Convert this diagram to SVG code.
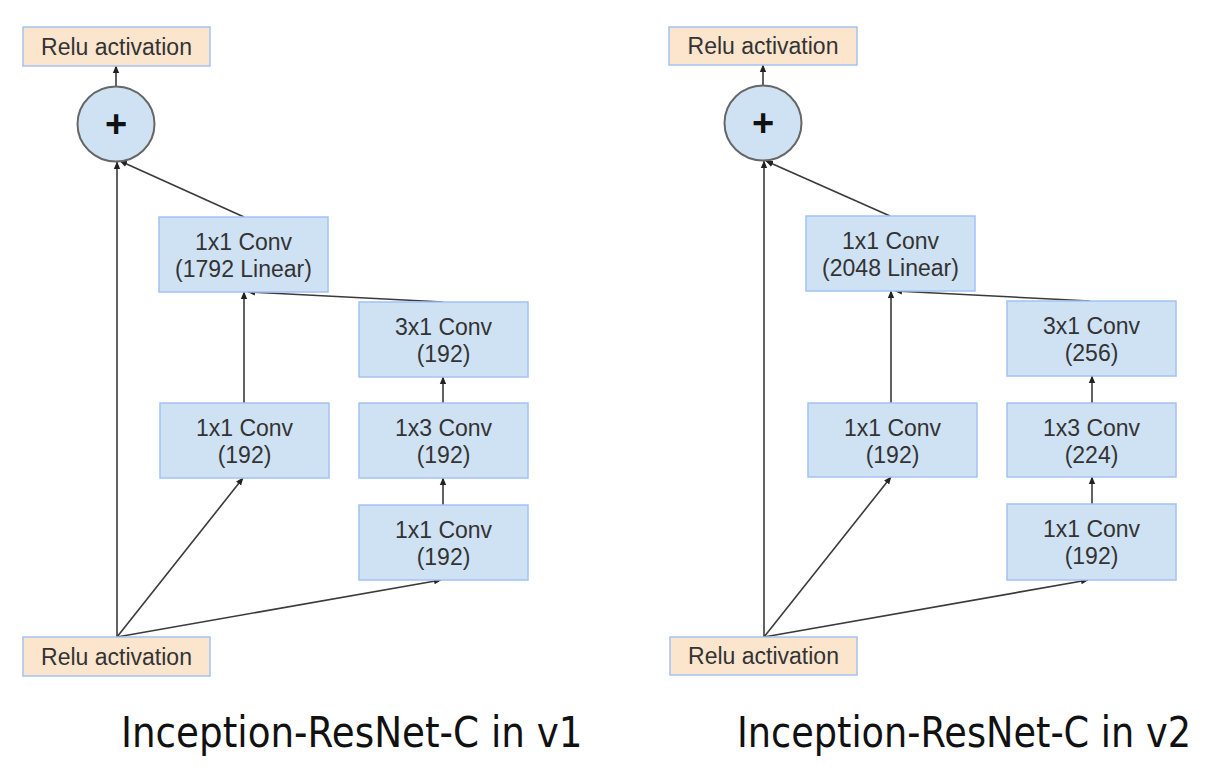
<svg xmlns="http://www.w3.org/2000/svg" width="1218" height="782" viewBox="0 0 1218 782">
<defs>
<style>
.box{fill:#cfe2f3;stroke:#a4c2f4;stroke-width:1.5}
.relu{fill:#fce5cd;stroke:#a4c2f4;stroke-width:1.5}
.sum{fill:#cfe2f3;stroke:#666666;stroke-width:2}
.t{font-family:"Liberation Sans",Arial,sans-serif;font-size:23px;fill:#333333;text-anchor:middle}
.plus{font-family:"Liberation Sans",Arial,sans-serif;font-size:38px;font-weight:bold;fill:#111111;text-anchor:middle}
.cap{font-family:"DejaVu Sans",sans-serif;font-size:43px;fill:#111111}
.c line{stroke:#3a3a3a;stroke-width:1.6;fill:none;marker-end:url(#ah)}
</style>
<marker id="ah" markerUnits="userSpaceOnUse" markerWidth="8" markerHeight="8" viewBox="0 0 8 8" refX="7" refY="4" orient="auto">
<path d="M0,0.8 L7.5,4 L0,7.2 Z" fill="#222222"/>
</marker>
</defs>
<rect width="1218" height="782" fill="#ffffff"/>

<g id="connectors-v1" class="c">
<line x1="117" y1="637" x2="117" y2="162"/>
<line x1="244" y1="217" x2="120" y2="161"/>
<line x1="116" y1="86" x2="116" y2="66"/>
<line x1="244" y1="403" x2="244" y2="292"/>
<line x1="443" y1="302" x2="248" y2="292"/>
<line x1="117" y1="637" x2="243" y2="478"/>
<line x1="117" y1="637" x2="441" y2="580"/>
<line x1="443" y1="505" x2="443" y2="478"/>
<line x1="443" y1="403" x2="443" y2="377"/>
</g>
<g id="connectors-v2" class="c">
<line x1="764" y1="637" x2="764" y2="161"/>
<line x1="890" y1="216" x2="766" y2="161"/>
<line x1="763" y1="86" x2="763" y2="65"/>
<line x1="891" y1="403" x2="891" y2="291"/>
<line x1="1090" y1="301" x2="895" y2="291"/>
<line x1="764" y1="637" x2="891" y2="477"/>
<line x1="764" y1="637" x2="1088" y2="580"/>
<line x1="1092" y1="504" x2="1092" y2="477"/>
<line x1="1092" y1="403" x2="1092" y2="376"/>
</g>

<g id="v1-relu-top"><rect class="relu" x="23" y="27" width="187" height="39"/><text class="t" x="116.5" y="55">Relu activation</text></g>
<g id="v1-sum"><ellipse class="sum" cx="116" cy="124" rx="38.5" ry="37.5"/><text class="plus" x="116" y="137">+</text></g>
<g id="v1-linear"><rect class="box" x="159" y="217" width="169" height="75"/><text class="t" x="243.5" y="250">1x1 Conv</text><text class="t" x="243.5" y="277">(1792 Linear)</text></g>
<g id="v1-3x1"><rect class="box" x="359" y="302" width="169" height="75"/><text class="t" x="443.5" y="335">3x1 Conv</text><text class="t" x="443.5" y="362">(192)</text></g>
<g id="v1-1x1a"><rect class="box" x="160" y="403" width="169" height="75"/><text class="t" x="244.5" y="436">1x1 Conv</text><text class="t" x="244.5" y="463">(192)</text></g>
<g id="v1-1x3"><rect class="box" x="359" y="403" width="169" height="75"/><text class="t" x="443.5" y="436">1x3 Conv</text><text class="t" x="443.5" y="463">(192)</text></g>
<g id="v1-1x1b"><rect class="box" x="359" y="505" width="169" height="75"/><text class="t" x="443.5" y="538">1x1 Conv</text><text class="t" x="443.5" y="565">(192)</text></g>
<g id="v1-relu-bottom"><rect class="relu" x="23" y="637" width="187" height="39"/><text class="t" x="116.5" y="665">Relu activation</text></g>

<g id="v2-relu-top"><rect class="relu" x="669" y="27" width="188" height="38"/><text class="t" x="763" y="54">Relu activation</text></g>
<g id="v2-sum"><ellipse class="sum" cx="763" cy="123" rx="38.5" ry="37.5"/><text class="plus" x="763" y="136">+</text></g>
<g id="v2-linear"><rect class="box" x="806" y="216" width="169" height="75"/><text class="t" x="890.5" y="249">1x1 Conv</text><text class="t" x="890.5" y="276">(2048 Linear)</text></g>
<g id="v2-3x1"><rect class="box" x="1007" y="301" width="169" height="75"/><text class="t" x="1091.5" y="334">3x1 Conv</text><text class="t" x="1091.5" y="361">(256)</text></g>
<g id="v2-1x1a"><rect class="box" x="808" y="403" width="169" height="74"/><text class="t" x="892.5" y="436">1x1 Conv</text><text class="t" x="892.5" y="463">(192)</text></g>
<g id="v2-1x3"><rect class="box" x="1007" y="403" width="169" height="74"/><text class="t" x="1091.5" y="436">1x3 Conv</text><text class="t" x="1091.5" y="463">(224)</text></g>
<g id="v2-1x1b"><rect class="box" x="1007" y="504" width="169" height="76"/><text class="t" x="1091.5" y="537">1x1 Conv</text><text class="t" x="1091.5" y="564">(192)</text></g>
<g id="v2-relu-bottom"><rect class="relu" x="670" y="637" width="187" height="38"/><text class="t" x="763.5" y="664">Relu activation</text></g>

<g id="captions">
<text class="cap" transform="translate(121,747) scale(0.867,1)">Inception-ResNet-C in v1</text>
<text class="cap" transform="translate(737,747) scale(0.853,1)">Inception-ResNet-C in v2</text>
</g>
</svg>
